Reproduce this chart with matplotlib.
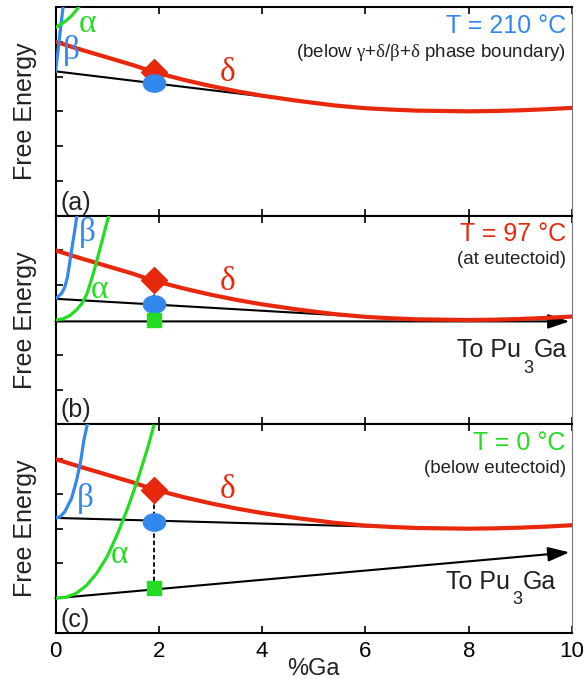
import matplotlib
matplotlib.use('Agg')
import matplotlib.pyplot as plt
from matplotlib.path import Path
import numpy as np

plt.rcParams['font.family'] = ['Liberation Sans', 'DejaVu Sans']
plt.rcParams['mathtext.fontset'] = 'custom'
plt.rcParams['mathtext.rm'] = 'Liberation Sans'
plt.rcParams['mathtext.it'] = 'Liberation Sans:italic'
plt.rcParams['mathtext.sf'] = 'Liberation Serif'

RED = '#E8280C'
BLUE = '#3388EE'
GREEN = '#22DD22'
TXT = '#222222'

# ---------------- data ----------------
# delta phase free energy curve (same in all panels)
delta_x = [0, 0.5, 1.0, 1.5, 1.9, 2.5, 3.0, 3.5, 4.0, 4.7, 5.4, 6.0, 6.5, 7.0, 7.5, 8.0, 8.5, 9.0, 9.5, 10.0]
delta_y = [5.0, 4.77, 4.55, 4.33, 4.13, 3.90, 3.73, 3.58, 3.45, 3.30, 3.17, 3.09, 3.05, 3.02, 3.01, 3.00, 3.01, 3.03, 3.06, 3.10]

# panel (a) T = 210 C
a_beta_x = [0, 0.035, 0.07, 0.105, 0.14, 0.17]
a_beta_y = [4.15, 4.58, 5.03, 5.48, 5.92, 6.3]
a_alpha_x = [0, 0.1, 0.2, 0.3, 0.4, 0.5]
a_alpha_y = [5.41, 5.50, 5.60, 5.73, 5.90, 6.10]
a_tan_x = [0, 4.73]
a_tan_y = [4.15, 3.30]
a_diamond = 4.13
a_circle = 3.81

# panel (b) T = 97 C
b_beta_x = [0, 0.055, 0.12, 0.18, 0.23, 0.267, 0.31, 0.357, 0.41, 0.44]
b_beta_y = [3.61, 3.68, 3.77, 3.95, 4.23, 4.57, 5.0, 5.43, 5.96, 6.2]
b_alpha_x = [0, 0.14, 0.28, 0.40, 0.51, 0.60, 0.67, 0.74, 0.80, 0.86, 0.92, 0.98, 1.04, 1.07]
b_alpha_y = [3.0, 3.03, 3.13, 3.28, 3.47, 3.72, 4.04, 4.38, 4.71, 5.04, 5.38, 5.72, 6.05, 6.2]
b_tan_x = [0, 6.4]
b_tan_y = [3.61, 3.06]
b_arrow_x = [0, 9.95]
b_arrow_y = [2.96, 2.96]
b_diamond = 4.14
b_circle = 3.45
b_square = 2.99

# panel (c) T = 0 C
c_beta_x = [0, 0.09, 0.18, 0.31, 0.41, 0.49, 0.55, 0.62, 0.64]
c_beta_y = [3.31, 3.34, 3.49, 3.87, 4.40, 4.97, 5.55, 6.03, 6.2]
c_alpha_x = [0, 0.2, 0.4, 0.6, 0.8, 1.0, 1.2, 1.4, 1.6, 1.8, 1.9]
c_alpha_y = [1.0, 1.03, 1.14, 1.37, 1.72, 2.2, 2.85, 3.6, 4.45, 5.4, 5.95]
c_tan_x = [0, 7.37]
c_tan_y = [3.31, 3.01]
c_arrow_x = [0, 9.95]
c_arrow_y = [1.0, 2.32]
c_diamond = 4.12
c_circle = 3.20
c_square = 1.30

x_comp = 1.9  # alloy composition marked

xticks = [0, 2, 4, 6, 8, 10]
yticks = [1, 2, 3, 4, 5]

# ---------------- figure ----------------
fig = plt.figure(figsize=(5.85, 6.79), dpi=100)
gs = fig.add_gridspec(3, 1, left=0.0949, right=0.9778, top=0.9897, bottom=0.0677, hspace=0)
axes = [fig.add_subplot(gs[i]) for i in range(3)]

circ = Path.unit_circle()
ell_verts = circ.vertices * np.array([1.0, 0.78])
ellipse_marker = Path(ell_verts, circ.codes)

greek_font = dict(family=['Liberation Serif', 'DejaVu Serif'], fontsize=24)

for i, ax in enumerate(axes):
    ax.set_xlim(0, 10)
    ax.set_ylim(0, 6)
    ax.set_xticks(xticks)
    ax.set_yticks(yticks)
    ax.tick_params(direction='in', length=5, width=1.2, top=True, bottom=True,
                   left=True, right=False, labelleft=False,
                   labelbottom=(i == 2), labelsize=16, pad=6)
    for s in ['left', 'top', 'bottom']:
        ax.spines[s].set_linewidth(1.5)
        ax.spines[s].set_color('black')
    ax.spines['right'].set_linewidth(0.8)
    ax.spines['right'].set_color('#777777')
    ax.set_ylabel('Free Energy', fontsize=18, color=TXT)
    ax.yaxis.set_label_coords(-0.036, 0.5)


def pu3ga(ax, x, y):
    ax.annotate('To Pu', xy=(x, y), xytext=(-79.2, 0), textcoords='offset points',
                ha='left', va='baseline', fontsize=18, color=TXT)
    ax.annotate('3', xy=(x, y), xytext=(-31.4, -11), textcoords='offset points',
                ha='left', va='baseline', fontsize=13, color=TXT)
    ax.annotate('Ga', xy=(x, y), xytext=(-24.2, 0), textcoords='offset points',
                ha='left', va='baseline', fontsize=18, color=TXT)


def markers(ax, yd, yc, ys=None):
    ax.plot([x_comp], [yd], marker='D', ms=13, color=RED, zorder=5)
    ax.plot([x_comp], [yc], marker=ellipse_marker, ms=16, color=BLUE, zorder=5)
    if ys is not None:
        ax.plot([x_comp, x_comp], [yd, ys], color='black', lw=1.3, ls=(0, (2.5, 1.5)), zorder=4)
        ax.plot([x_comp], [ys], marker='s', ms=10, color=GREEN, zorder=5)


def arrow(ax, xs, ys):
    ax.annotate('', xy=(xs[1], ys[1]), xytext=(xs[0], ys[0]),
                arrowprops=dict(arrowstyle='-|>,head_length=0.65,head_width=0.22', color='black',
                                lw=1.5, shrinkA=0, shrinkB=0, mutation_scale=20), zorder=2)

# ---- panel (a)
ax = axes[0]
ax.plot(a_tan_x, a_tan_y, color='black', lw=1.5, zorder=2)
ax.plot(delta_x, delta_y, color=RED, lw=3.0, zorder=3)
ax.plot(a_beta_x, a_beta_y, color=BLUE, lw=2.3, zorder=3)
ax.plot(a_alpha_x, a_alpha_y, color=GREEN, lw=2.3, zorder=3)
markers(ax, a_diamond, a_circle)
ax.text(0.62, 5.53, 'α', color=GREEN, ha='center', va='center', **greek_font)
ax.text(0.31, 4.74, 'β', color=BLUE, ha='center', va='center', **greek_font)
ax.text(3.33, 4.11, 'δ', color=RED, ha='center', va='center', **greek_font)
ax.text(9.88, 5.46, 'T = 210 °C', color=BLUE, ha='right', va='center', fontsize=18)
ax.text(9.88, 4.68, r'(below $\mathsf{\gamma}$+$\mathsf{\delta}$/$\mathsf{\beta}$+$\mathsf{\delta}$ phase boundary)',
        color=TXT, ha='right', va='center', fontsize=13.5)
ax.text(0.09, 0.36, '(a)', ha='left', va='center', fontsize=18, color=TXT)

# ---- panel (b)
ax = axes[1]
ax.plot(b_tan_x, b_tan_y, color='black', lw=1.5, zorder=2)
arrow(ax, b_arrow_x, b_arrow_y)
ax.plot(delta_x, delta_y, color=RED, lw=3.0, zorder=3)
ax.plot(b_beta_x, b_beta_y, color=BLUE, lw=2.3, zorder=3)
ax.plot(b_alpha_x, b_alpha_y, color=GREEN, lw=2.3, zorder=3)
markers(ax, b_diamond, b_circle, b_square)
ax.text(0.85, 3.87, 'α', color=GREEN, ha='center', va='center', **greek_font)
ax.text(0.62, 5.53, 'β', color=BLUE, ha='center', va='center', **greek_font)
ax.text(3.33, 4.09, 'δ', color=RED, ha='center', va='center', **greek_font)
ax.text(9.88, 5.48, 'T = 97 °C', color=RED, ha='right', va='center', fontsize=18)
ax.text(9.88, 4.73, '(at eutectoid)', color=TXT, ha='right', va='center', fontsize=13.5)
pu3ga(ax, 9.91, 1.93)
ax.text(0.09, 0.40, '(b)', ha='left', va='center', fontsize=18, color=TXT)

# ---- panel (c)
ax = axes[2]
ax.plot(c_tan_x, c_tan_y, color='black', lw=1.5, zorder=2)
arrow(ax, c_arrow_x, c_arrow_y)
ax.plot(delta_x, delta_y, color=RED, lw=3.0, zorder=3)
ax.plot(c_beta_x, c_beta_y, color=BLUE, lw=2.3, zorder=3)
ax.plot(c_alpha_x, c_alpha_y, color=GREEN, lw=2.3, zorder=3)
markers(ax, c_diamond, c_circle, c_square)
ax.text(1.23, 2.24, 'α', color=GREEN, ha='center', va='center', **greek_font)
ax.text(0.57, 3.87, 'β', color=BLUE, ha='center', va='center', **greek_font)
ax.text(3.33, 4.11, 'δ', color=RED, ha='center', va='center', **greek_font)
ax.text(9.88, 5.47, 'T = 0 °C', color=GREEN, ha='right', va='center', fontsize=18)
ax.text(9.88, 4.73, '(below eutectoid)', color=TXT, ha='right', va='center', fontsize=13.5)
pu3ga(ax, 9.69, 1.28)
ax.text(0.09, 0.37, '(c)', ha='left', va='center', fontsize=18, color=TXT)

fig.text(313.7 / 585, 1 - 675 / 679, '%Ga', ha='center', va='baseline', fontsize=17, color=TXT)

fig.savefig('out.png', dpi=100)
